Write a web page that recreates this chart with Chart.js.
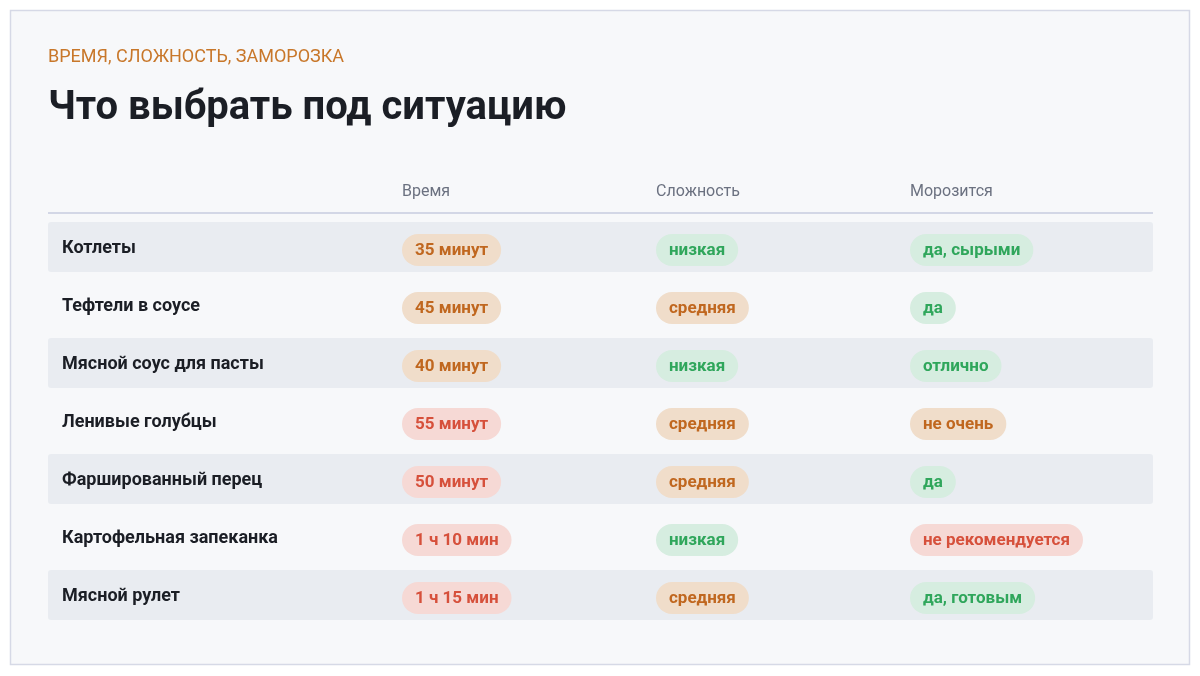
<!DOCTYPE html>
<html>
<head>
<meta charset="utf-8">
<script src="https://cdn.jsdelivr.net/npm/chart.js@4"></script>
<style>
  html, body { margin: 0; padding: 0; background: #ffffff; }
  #wrap { width: 1200px; height: 676px; }
</style>
</head>
<body>
<div id="wrap"><canvas id="c" width="1200" height="676"></canvas></div>
<script>
// Данные таблицы
const columns = ['Время', 'Сложность', 'Морозится'];
const dishes = ['Котлеты', 'Тефтели в соусе', 'Мясной соус для пасты', 'Ленивые голубцы',
  'Фаршированный перец', 'Картофельная запеканка', 'Мясной рулет'];
const times = ['35 минут', '45 минут', '40 минут', '55 минут', '50 минут', '1 ч 10 мин', '1 ч 15 мин'];
const timeTone = ['orange', 'orange', 'orange', 'red', 'red', 'red', 'red'];
const difficulty = ['низкая', 'средняя', 'низкая', 'средняя', 'средняя', 'низкая', 'средняя'];
const diffTone = ['green', 'orange', 'green', 'orange', 'orange', 'green', 'orange'];
const freezes = ['да, сырыми', 'да', 'отлично', 'не очень', 'да', 'не рекомендуется', 'да, готовым'];
const freezeTone = ['green', 'green', 'green', 'orange', 'green', 'red', 'green'];

const tones = {
  orange: { bg: '#f0ddca', fg: '#c0671f' },
  red: { bg: '#f6d9d5', fg: '#d6503b' },
  green: { bg: '#d6ede0', fg: '#2fa65b' }
};

const cellTexts = [times, difficulty, freezes];
const cellTones = [timeTone, diffTone, freezeTone];

// точки-якоря для ячеек (x = колонка, y = строка)
const points = [];
dishes.forEach((d, r) => {
  for (let c = 0; c <= 3; c++) points.push({ x: c, y: r, r: r, c: c });
});

function pill(ctx, x, yc, text, tone) {
  ctx.font = 'bold 17px Roboto, "Noto Sans", sans-serif';
  const w = ctx.measureText(text).width + 26;
  const h = 32, rad = 16;
  ctx.fillStyle = tones[tone].bg;
  ctx.beginPath();
  ctx.roundRect(x, yc - h / 2, w, h, rad);
  ctx.fill();
  ctx.fillStyle = tones[tone].fg;
  ctx.textBaseline = 'middle';
  ctx.fillText(text, x + 13, yc + 1);
}

const tablePlugin = {
  id: 'tablePlugin',
  beforeDraw(chart) {
    const ctx = chart.ctx;
    ctx.save();
    ctx.fillStyle = '#f7f8fa';
    ctx.fillRect(10, 10, 1180, 655);
    ctx.strokeStyle = '#d6d9e6';
    ctx.lineWidth = 1.5;
    ctx.strokeRect(10.5, 10.5, 1179, 654);

    ctx.textBaseline = 'alphabetic';
    ctx.fillStyle = '#c8772a';
    ctx.font = '18px Roboto, "Noto Sans", sans-serif';
    ctx.fillText('ВРЕМЯ, СЛОЖНОСТЬ, ЗАМОРОЗКА', 48, 62);
    ctx.fillStyle = '#1b1e25';
    ctx.font = 'bold 40px Roboto, "Noto Sans", sans-serif';
    ctx.fillText('Что выбрать под ситуацию', 48, 119);

    const xs = chart.scales.x, ys = chart.scales.y, area = chart.chartArea;
    ctx.fillStyle = '#6b7180';
    ctx.font = '16px Roboto, "Noto Sans", sans-serif';
    columns.forEach((c, i) => ctx.fillText(c, xs.getPixelForValue(i + 1), 196));
    ctx.strokeStyle = '#d3d7e6';
    ctx.lineWidth = 2;
    ctx.beginPath();
    ctx.moveTo(area.left, 213);
    ctx.lineTo(area.right, 213);
    ctx.stroke();

    dishes.forEach((d, r) => {
      const yc = ys.getPixelForValue(r);
      if (r % 2 === 0) {
        ctx.fillStyle = '#e9ecf1';
        ctx.beginPath();
        ctx.roundRect(area.left, yc - 25, area.right - area.left, 50, 3);
        ctx.fill();
      }
    });
    ctx.restore();
  },
  afterDatasetsDraw(chart) {
    const ctx = chart.ctx;
    const xs = chart.scales.x, ys = chart.scales.y, area = chart.chartArea;
    ctx.save();
    dishes.forEach((d, r) => {
      const yc = ys.getPixelForValue(r);
      ctx.fillStyle = '#1b1e25';
      ctx.font = 'bold 18px Roboto, "Noto Sans", sans-serif';
      ctx.textBaseline = 'middle';
      ctx.fillText(d, area.left + 14, yc + 1);
      for (let c = 0; c < 3; c++) {
        pill(ctx, xs.getPixelForValue(c + 1), yc + 3, cellTexts[c][r], cellTones[c][r]);
      }
    });
    ctx.restore();
  }
};

new Chart(document.getElementById('c'), {
  type: 'scatter',
  data: { datasets: [{ data: points, pointRadius: 0, pointHoverRadius: 0 }] },
  options: {
    responsive: false,
    animation: false,
    events: [],
    layout: { padding: { left: 48, right: 47, top: 218, bottom: 52 } },
    plugins: { legend: { display: false }, tooltip: { enabled: false } },
    scales: {
      x: { type: 'linear', display: false, min: -100 / 254, max: 1005 / 254 },
      y: { type: 'linear', display: false, min: -0.5, max: dishes.length - 0.5, reverse: true }
    }
  },
  plugins: [tablePlugin]
});
</script>
</body>
</html>
